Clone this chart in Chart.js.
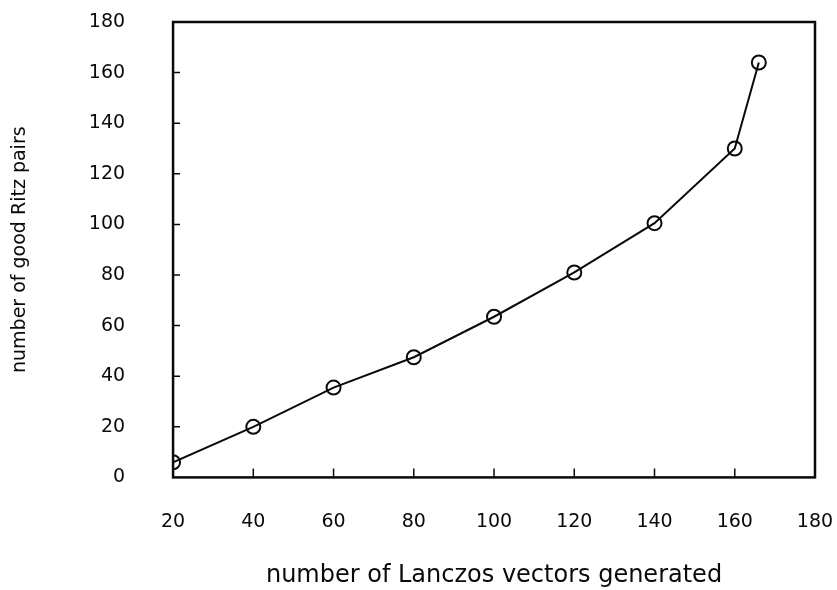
<!DOCTYPE html>
<html>
<head>
<meta charset="utf-8">
<script src="https://cdn.jsdelivr.net/npm/chart.js@4/dist/chart.umd.min.js"></script>
<style>
  html, body { margin: 0; padding: 0; background: #fff; }
  #wrap { width: 837px; height: 590px; }
</style>
</head>
<body>
<div id="wrap"><canvas id="chart"></canvas></div>
<script>
const VECTORS = [20, 40, 60, 80, 100, 120, 140, 160, 166]
const GOOD_PAIRS = [6, 20, 35.5, 47.5, 63.5, 81, 100.5, 130, 164]
const X_TITLE = 'number of Lanczos vectors generated'
const Y_TITLE = 'number of good Ritz pairs'

const INK = '#0a0a0a'
const FONT = 'DejaVu Sans, sans-serif'
const CLEAR = 'rgba(0,0,0,0)'

// box around the plot plus small inward tick marks
const frame = {
  id: 'frame',
  afterDatasetsDraw(chart) {
    const { ctx, chartArea: a, scales } = chart
    ctx.save()
    ctx.strokeStyle = INK
    ctx.lineWidth = 2.5
    ctx.strokeRect(a.left, a.top, a.right - a.left, a.bottom - a.top)
    ctx.lineWidth = 1.5
    ctx.beginPath()
    scales.x.ticks.forEach(t => {
      if (t.value <= scales.x.min || t.value >= scales.x.max) return
      const px = scales.x.getPixelForValue(t.value)
      ctx.moveTo(px, a.bottom)
      ctx.lineTo(px, a.bottom - 9)
    })
    scales.y.ticks.forEach(t => {
      if (t.value <= scales.y.min || t.value >= scales.y.max) return
      const py = scales.y.getPixelForValue(t.value)
      ctx.moveTo(a.left, py)
      ctx.lineTo(a.left + 7, py)
    })
    ctx.stroke()
    ctx.restore()
  },
}

new Chart(document.getElementById('chart'), {
  type: 'scatter',
  data: {
    datasets: [{
      data: VECTORS.map((v, i) => ({ x: v, y: GOOD_PAIRS[i] })),
      showLine: true,
      borderColor: INK,
      borderWidth: 2,
      pointStyle: 'circle',
      pointRadius: 7,
      pointBorderWidth: 2,
      pointBackgroundColor: CLEAR,
      pointBorderColor: INK,
    }],
  },
  options: {
    responsive: true,
    maintainAspectRatio: false,
    animation: false,
    layout: { padding: { left: 9, right: 22, top: 22, bottom: 0 } },
    plugins: {
      legend: { display: false },
      tooltip: { enabled: false },
    },
    scales: {
      x: {
        type: 'linear',
        min: 20,
        max: 180,
        grid: { drawOnChartArea: false, drawTicks: true, tickLength: 31, tickColor: CLEAR },
        border: { display: false },
        ticks: { stepSize: 20, padding: 2, color: INK, font: { family: FONT, size: 19 } },
        title: {
          display: true,
          text: X_TITLE,
          color: INK,
          padding: { top: 26, bottom: 0 },
          font: { family: FONT, size: 24 },
        },
      },
      y: {
        min: 0,
        max: 180,
        grid: { drawOnChartArea: false, drawTicks: true, tickLength: 46, tickColor: CLEAR },
        border: { display: false },
        ticks: { stepSize: 20, padding: 2, color: INK, font: { family: FONT, size: 19 } },
        title: {
          display: true,
          text: Y_TITLE,
          color: INK,
          padding: { top: 0, bottom: 55 },
          font: { family: FONT, size: 19 },
        },
      },
    },
  },
  plugins: [frame],
})
</script>
</body>
</html>
